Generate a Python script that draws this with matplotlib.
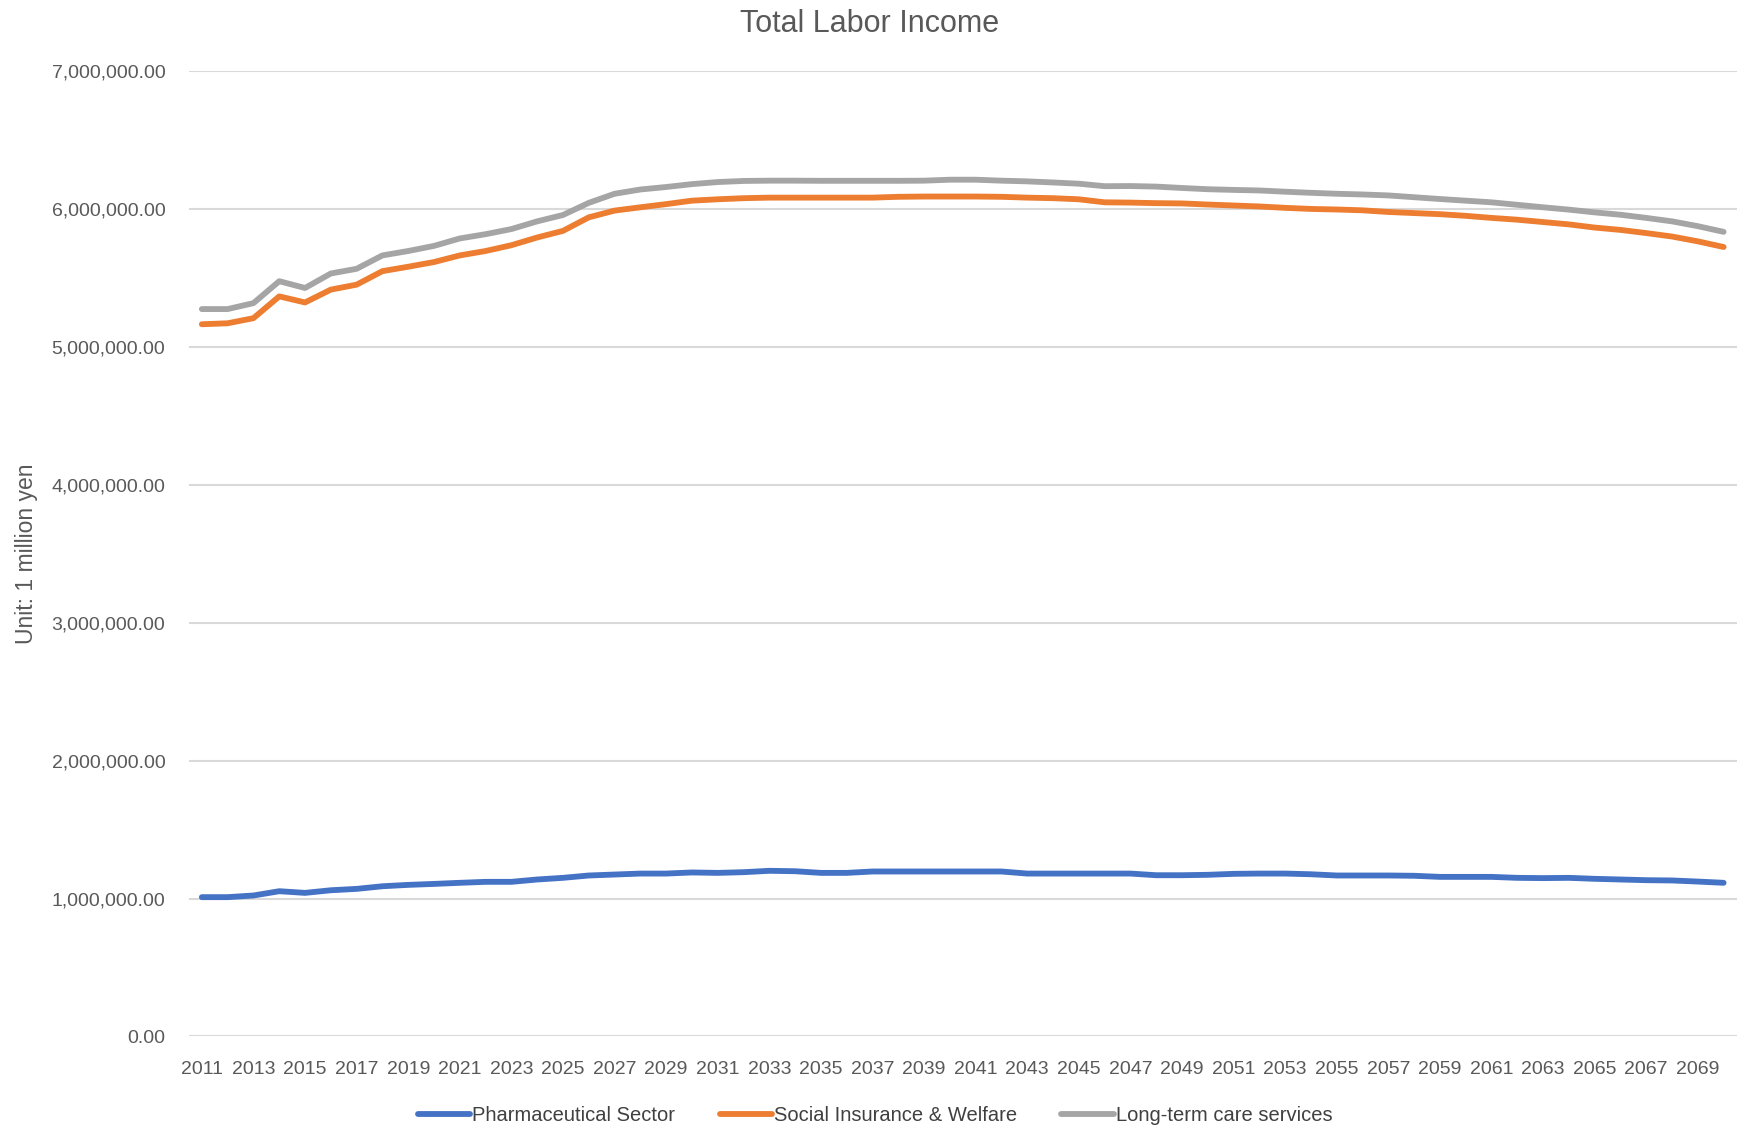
import matplotlib.pyplot as plt
from matplotlib.ticker import FuncFormatter

plt.rcParams['font.family'] = ['Liberation Sans', 'DejaVu Sans']

years = list(range(2011, 2071))

# values in yen (unit: 1 million yen)
pharma = [1.010, 1.010, 1.022, 1.053, 1.041, 1.060, 1.070, 1.089, 1.099, 1.106,
          1.114, 1.121, 1.121, 1.138, 1.150, 1.167, 1.174, 1.181, 1.181, 1.189,
          1.186, 1.191, 1.201, 1.198, 1.186, 1.186, 1.196, 1.196, 1.196, 1.196,
          1.196, 1.196, 1.181, 1.181, 1.181, 1.181, 1.181, 1.169, 1.169, 1.172,
          1.179, 1.181, 1.181, 1.176, 1.167, 1.167, 1.167, 1.165, 1.157, 1.157,
          1.157, 1.150, 1.148, 1.150, 1.143, 1.138, 1.133, 1.131, 1.123, 1.114]

social = [5.164, 5.171, 5.208, 5.366, 5.322, 5.415, 5.451, 5.549, 5.581, 5.615,
          5.663, 5.695, 5.737, 5.793, 5.841, 5.939, 5.988, 6.012, 6.035, 6.060,
          6.070, 6.078, 6.082, 6.082, 6.082, 6.082, 6.082, 6.088, 6.090, 6.090,
          6.090, 6.088, 6.082, 6.078, 6.070, 6.048, 6.046, 6.042, 6.040, 6.032,
          6.025, 6.018, 6.008, 6.000, 5.996, 5.990, 5.978, 5.970, 5.962, 5.950,
          5.935, 5.922, 5.905, 5.888, 5.865, 5.848, 5.825, 5.800, 5.765, 5.724]

longterm = [5.274, 5.274, 5.317, 5.476, 5.427, 5.532, 5.566, 5.663, 5.695, 5.732,
            5.786, 5.817, 5.854, 5.910, 5.956, 6.044, 6.110, 6.141, 6.159, 6.180,
            6.195, 6.203, 6.205, 6.205, 6.204, 6.204, 6.204, 6.204, 6.205, 6.212,
            6.212, 6.205, 6.200, 6.192, 6.183, 6.165, 6.166, 6.162, 6.152, 6.143,
            6.138, 6.134, 6.125, 6.117, 6.110, 6.105, 6.098, 6.085, 6.072, 6.060,
            6.048, 6.030, 6.012, 5.995, 5.975, 5.958, 5.935, 5.910, 5.875, 5.834]

series = {
    'Pharmaceutical Sector': (pharma, '#4472C4'),
    'Social Insurance & Welfare': (social, '#ED7D31'),
    'Long-term care services': (longterm, '#A5A5A5'),
}

txt = '#595959'

fig = plt.figure(figsize=(17.4, 11.31), dpi=100)
ax = fig.add_axes([0.1086, 0.0836, 0.8894, 0.8536])

x = list(range(len(years)))
for name, (vals, col) in series.items():
    ax.plot(x, [v * 1e6 for v in vals], color=col, lw=4.2, label=name,
            solid_capstyle='round', zorder=3)

ax.set_xlim(-0.5, len(years) - 0.5)
ax.set_ylim(0, 7e6)
ax.set_yticks([i * 1e6 for i in range(8)])
ax.yaxis.set_major_formatter(FuncFormatter(lambda v, p: f'{v:,.2f}'))
ax.set_xticks(x[::2])
ax.set_xticklabels([str(y) for y in years[::2]])
ax.grid(axis='y', color='#D9D9D9', lw=1.5, zorder=0)
ax.tick_params(length=0, labelsize=14, labelcolor=txt)
ax.tick_params(axis='y', pad=17)
ax.tick_params(axis='x', pad=18)
for s in ax.spines.values():
    s.set_visible(False)

fig.text(0.015, 0.51, 'Unit: 1 million yen', rotation=90, fontsize=16.5,
         color=txt, ha='center', va='center')
fig.suptitle('Total Labor Income', fontsize=22, color=txt, y=0.979, va='center')

fig.legend(loc='center', bbox_to_anchor=(0.503, 0.014), ncol=3, frameon=False,
           fontsize=14.5, handlelength=2.6, handletextpad=0.1, columnspacing=2.2,
           labelcolor='#404040')

fig.savefig('out.png', dpi=100, facecolor='white')
